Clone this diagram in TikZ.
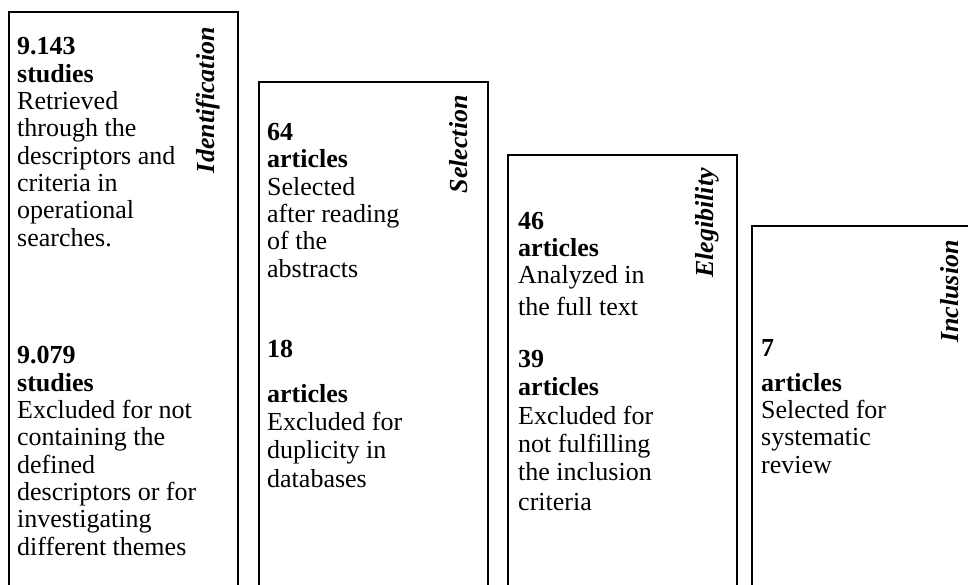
\documentclass[tikz,border=0pt]{standalone}
\usepackage{fontspec}
\setmainfont{Liberation Serif}
\usepackage{tikz}
\usetikzlibrary{positioning}

\begin{document}
\begin{tikzpicture}[x = 1pt, y = -1pt,
		frame/.style = {line width = 1.7pt},
		txt/.style = {anchor = base west, inner sep = 0pt, align = left, font = \fontsize{26}{27.3}\selectfont},
		phase/.style = {rotate = 90, anchor = base east, inner sep = 0pt, font = \fontsize{26}{27}\selectfont\bfseries\itshape}]
		\useasboundingbox (0,0) rectangle (968,584);
		% columns, open at the bottom
		\draw[frame] (9,600) -- (9,12) -- (238,12) -- (238,600);
		\draw[frame] (259,600) -- (259,82) -- (488,82) -- (488,600);
		\draw[frame] (508,600) -- (508,155) -- (737,155) -- (737,600);
		\draw[frame] (752,600) -- (752,226) -- (985,226) -- (985,600);
		\node[phase] (idl) at (214,27) {Identification};
		\node[phase] (sel) at (467,95) {Selection};
		\node[phase] (ell) at (713,168) {Elegibility};
		\node[phase] (inl) at (958,240) {Inclusion};
		% text blocks, placed by their last baseline
		\node[txt] (id1) at (17,246) {\textbf{9.143}\\\textbf{studies}\\Retrieved\\through the\\descriptors and\\criteria in\\operational\\searches.};
		\node[txt] (id2) at (17,555) {\textbf{9.079}\\\textbf{studies}\\Excluded for not\\containing the\\defined\\descriptors or for\\investigating\\different themes};
		\node[txt] (se1) at (267,277) {\textbf{64}\\\textbf{articles}\\Selected\\after reading\\of the\\abstracts};
		\node[txt] (se2) at (267,487) {\textbf{18}\\[17pt]\textbf{articles}\\[1pt]Excluded for\\[1pt]duplicity in\\[1pt]databases};
		\node[txt] (el1) at (518,315) {\textbf{46}\\\textbf{articles}\\Analyzed in\\[4pt]the full text};
		\node[txt] (el2) at (518,510) {\textbf{39}\\[1pt]\textbf{articles}\\[1pt]Excluded for\\[1pt]not fulfilling\\[1pt]the inclusion\\[2pt]criteria};
		\node[txt] (in1) at (761,473) {\textbf{7}\\[7pt]\textbf{articles}\\Selected for\\systematic\\review};
	\end{tikzpicture}
\end{document}
